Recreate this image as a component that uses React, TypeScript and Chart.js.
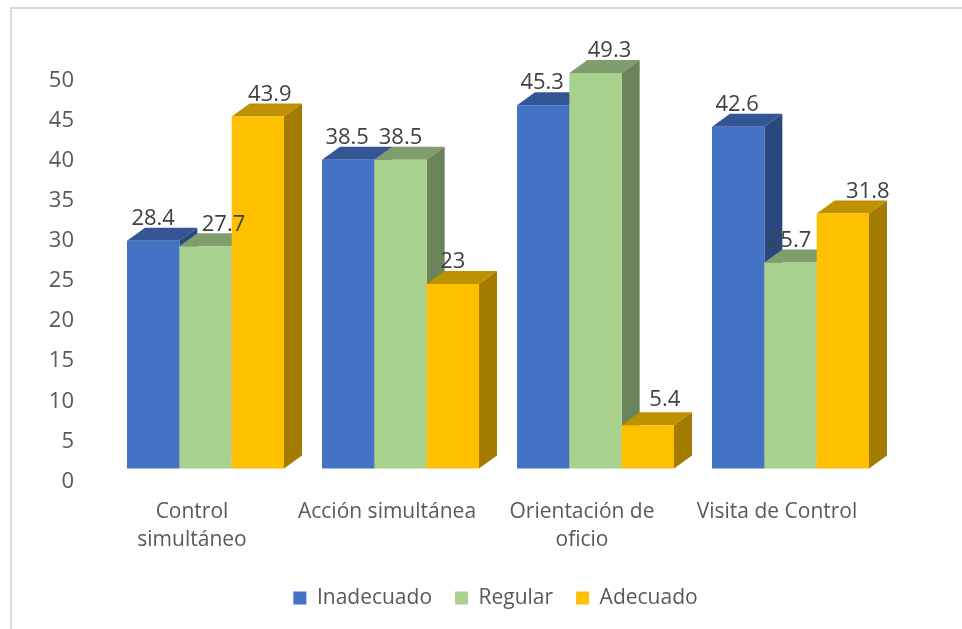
import React, { useEffect, useRef } from "react";
import { Chart, registerables } from "chart.js";

Chart.register(...registerables);

const categories: string[][] = [
  ["Control", "simultáneo"],
  ["Acción simultánea"],
  ["Orientación de", "oficio"],
  ["Visita de Control"],
];
const inadecuado = [28.4, 38.5, 45.3, 42.6];
const regular = [27.7, 38.5, 49.3, 25.7];
const adecuado = [43.9, 23, 5.4, 31.8];
const yTicks = { min: 0, max: 50, step: 5 };

const FONT = "'Open Sans', sans-serif";
const TEXT = "#595959";
const LABEL = "#404040";
const DX = 18;
const DY = 13;
const PLOT_BOTTOM = 468.5;

const faces = [
  { front: "#4472C4", top: "#335593", side: "#2A4880" },
  { front: "#A9D18E", top: "#7F9E6B", side: "#6B8459" },
  { front: "#FFC000", top: "#BF9000", side: "#A27B00" },
];
// hand placement of the data labels in the reference, relative to each bar
const labelNudges = [
  [0, -1, -1, -1],
  [18, 0, 14, -1],
  [12, 0, 17, 25],
];
const labelLifts = [
  [22, 22, 22, 22],
  [22, 22, 22, 22],
  [22, 22, 25, 22],
];

const bars3d = {
  id: "bars3d",
  beforeDatasetsDraw(chart: any) {
    const ctx = chart.ctx;
    chart.data.datasets.forEach((_: any, d: number) => {
      const meta = chart.getDatasetMeta(d);
      const f = faces[d];
      meta.data.forEach((bar: any) => {
        const p = bar.getProps(["x", "y", "base", "width"], true);
        const l = p.x - p.width / 2;
        const r = p.x + p.width / 2;
        ctx.save();
        ctx.fillStyle = f.top;
        ctx.beginPath();
        ctx.moveTo(l, p.y);
        ctx.lineTo(l + DX, p.y - DY);
        ctx.lineTo(r + DX, p.y - DY);
        ctx.lineTo(r, p.y);
        ctx.closePath();
        ctx.fill();
        ctx.fillStyle = f.side;
        ctx.beginPath();
        ctx.moveTo(r, p.y);
        ctx.lineTo(r + DX, p.y - DY);
        ctx.lineTo(r + DX, p.base - DY);
        ctx.lineTo(r, p.base);
        ctx.closePath();
        ctx.fill();
        ctx.restore();
        bar.draw(ctx);
      });
    });
  },
  beforeDatasetDraw() {
    return false;
  },
  afterDatasetsDraw(chart: any) {
    const ctx = chart.ctx;
    ctx.save();
    ctx.font = `22px ${FONT}`;
    ctx.fillStyle = LABEL;
    ctx.textAlign = "center";
    ctx.textBaseline = "middle";
    chart.data.datasets.forEach((ds: any, d: number) => {
      chart.getDatasetMeta(d).data.forEach((bar: any, i: number) => {
        const p = bar.getProps(["x", "y"], true);
        ctx.fillText(String(ds.data[i]), p.x + labelNudges[d][i], p.y - labelLifts[d][i]);
      });
    });
    ctx.restore();
  },
  afterLayout(chart: any) {
    const lg = chart.legend;
    if (lg) {
      lg.left = 0;
      lg.right = 991;
      lg.top = 564.5;
    }
  },
};

export default function App() {
  const ref = useRef<HTMLCanvasElement>(null);
  useEffect(() => {
    const chart = new Chart(ref.current as HTMLCanvasElement, {
      type: "bar",
      data: {
        labels: categories as any,
        datasets: [
          { label: "Inadecuado", data: inadecuado, backgroundColor: faces[0].front },
          { label: "Regular", data: regular, backgroundColor: faces[1].front },
          { label: "Adecuado", data: adecuado, backgroundColor: faces[2].front },
        ],
      },
      options: {
        animation: false,
        responsive: false,
        devicePixelRatio: 1,
        layout: { padding: { left: 0, right: 74, top: 67.5, bottom: 0 } },
        datasets: { bar: { categoryPercentage: 157 / 195, barPercentage: 1 } },
        plugins: {
          legend: {
            position: "bottom",
            labels: {
              boxWidth: 13,
              boxHeight: 13,
              padding: 23,
              color: TEXT,
              font: { family: FONT, size: 21 },
            },
          },
          tooltip: { enabled: false },
          title: { display: false },
        },
        scales: {
          x: {
            grid: { display: false, drawTicks: false },
            border: { display: false },
            ticks: {
              color: TEXT,
              font: { family: FONT, size: 21, lineHeight: 1.35 },
              padding: 29,
              labelOffset: -13.5,
              maxRotation: 0,
              autoSkip: false,
            },
            afterFit(scale: any) {
              scale.height = 629 - PLOT_BOTTOM - (scale.chart.legend?.height || 0);
            },
          },
          y: {
            min: yTicks.min,
            max: yTicks.max,
            grid: { display: false, drawTicks: false },
            border: { display: false },
            ticks: {
              stepSize: yTicks.step,
              color: TEXT,
              font: { family: FONT, size: 22 },
              padding: 34,
              labelOffset: 13,
            },
            afterFit(scale: any) {
              scale.width = 108;
            },
          },
        },
      },
      plugins: [bars3d as any],
    });
    return () => chart.destroy();
  }, []);
  return (
    <div style={{ position: "fixed", left: 0, top: 0, width: 962, height: 629, background: "#fff", overflow: "hidden" }}>
      <canvas ref={ref} width={962} height={629} style={{ display: "block" }} />
      <div style={{ position: "absolute", left: 10, top: 7, right: -4, bottom: -4, borderLeft: "2px solid #D9D9D9", borderTop: "2px solid #D9D9D9" }} />
    </div>
  );
}
